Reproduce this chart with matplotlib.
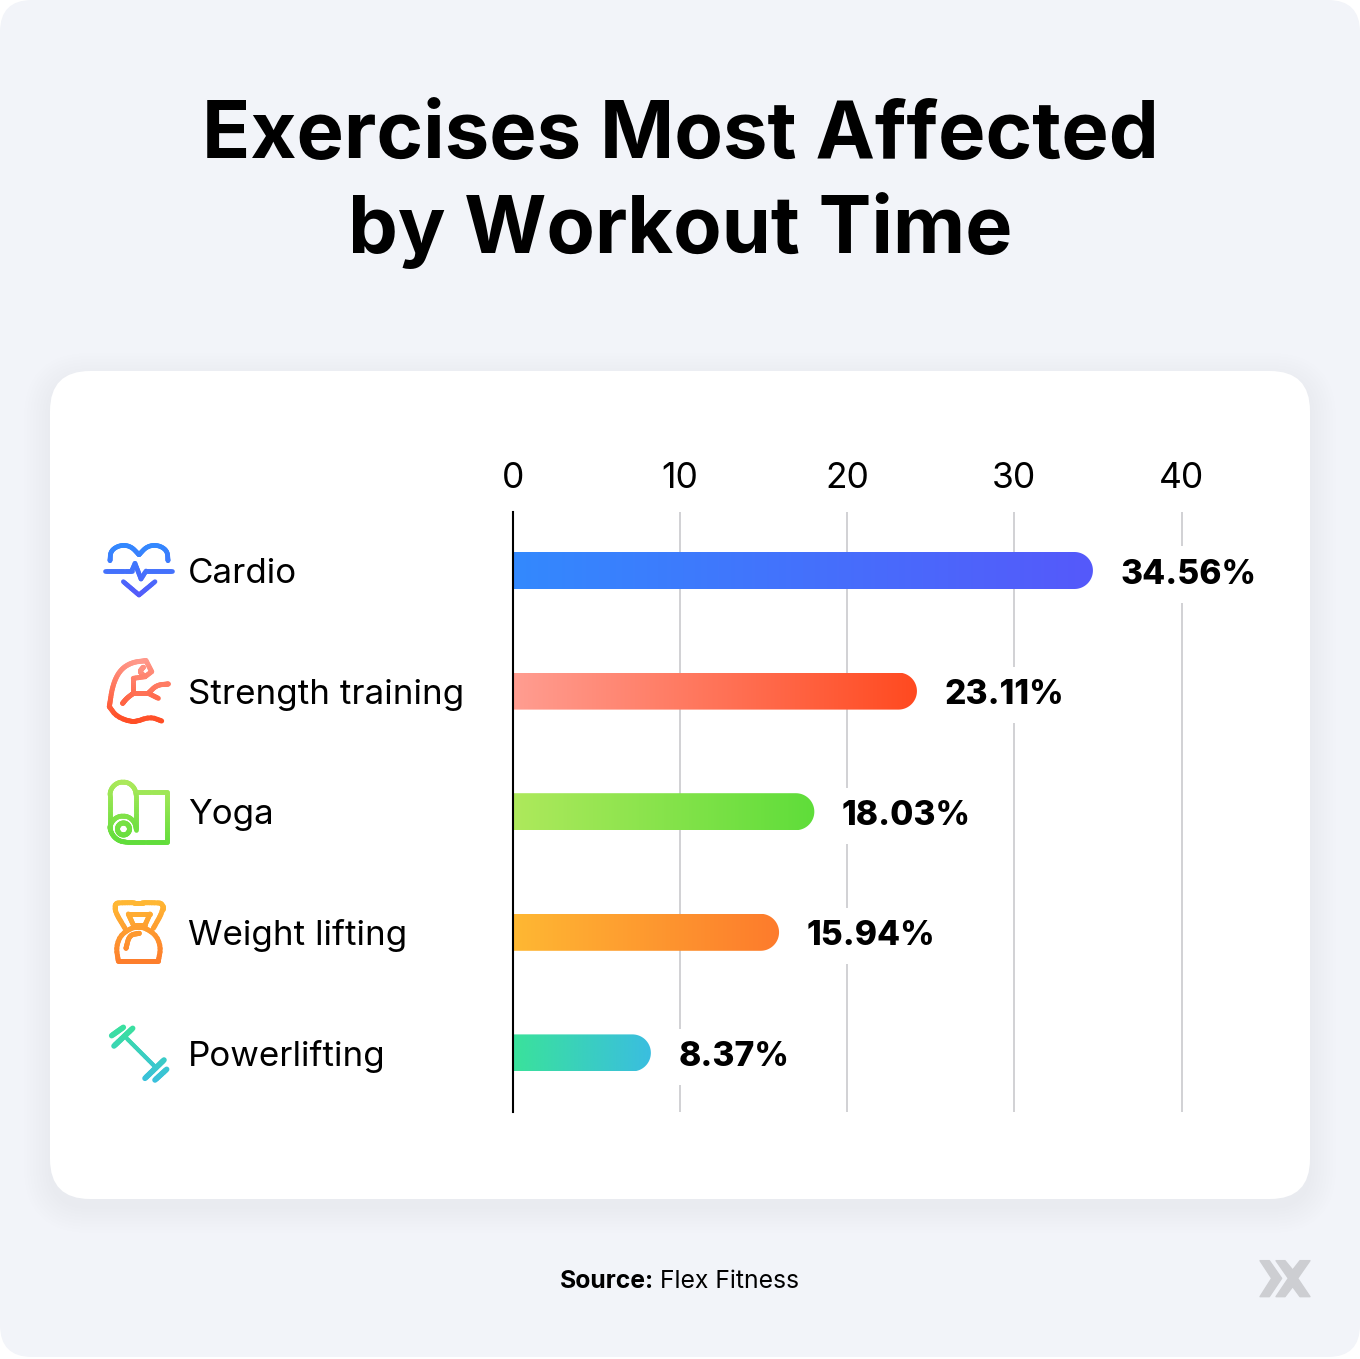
import numpy as np
import matplotlib
matplotlib.use("Agg")
import matplotlib.pyplot as plt
from matplotlib.collections import LineCollection
from matplotlib.colors import LinearSegmentedColormap, to_rgb
from matplotlib.patches import FancyBboxPatch, PathPatch, Polygon
from matplotlib.path import Path

plt.rcParams['font.family'] = ['Inter', 'DejaVu Sans']

# data
categories = ["Cardio", "Strength training", "Yoga", "Weight lifting", "Powerlifting"]
bar_values = [34.7, 24.17, 18.03, 15.92, 8.25]
value_labels = ["34.56%", "23.11%", "18.03%", "15.94%", "8.37%"]
x_ticks = [0, 10, 20, 30, 40]
bar_left_colors = ["#3389FE", "#FF9D91", "#AEE95C", "#FFB833", "#3AE29B"]
bar_right_colors = ["#5559FA", "#FF4A20", "#5FDD3A", "#FD7B2C", "#3ABEE0"]

fig = plt.figure(figsize=(13.6, 13.59), dpi=100, facecolor="white")

# background layer in pixels
bg = fig.add_axes([0, 0, 1, 1], zorder=0)
bg.set_xlim(0, 1360)
bg.set_ylim(1359, 0)
bg.axis("off")

bg.add_patch(FancyBboxPatch((30, 30), 1300, 1297, boxstyle="round,pad=30,rounding_size=32",
                            fc="#F2F4F9", ec="none"))
# soft shadow of the card
for grow, alpha in zip(range(26, 0, -3), np.linspace(0.002, 0.007, 9)):
    bg.add_patch(FancyBboxPatch((90, 411 + 8), 1180, 748, boxstyle="round,pad=%d,rounding_size=%d" % (40 + grow, 40 + grow),
                                fc="#7080A0", ec="none", alpha=alpha))
bg.add_patch(FancyBboxPatch((90, 411), 1180, 748, boxstyle="round,pad=40,rounding_size=40",
                            fc="white", ec="none"))

bg.text(680, 158, "Exercises Most Affected", ha="center", va="baseline", fontsize=57.3, fontweight="bold", color="black")
bg.text(680, 253, "by Workout Time", ha="center", va="baseline", fontsize=57, fontweight="bold", color="black")
bg.text(654, 1281, "Source:", ha="right", va="center", fontsize=17.8, fontweight="bold", color="black")
bg.text(660, 1281, "Flex Fitness", ha="left", va="center", fontsize=17.8, color="black")

# logo
def zoom_xy(pts, ox, oy):
    return [(ox + x / 3, oy + y / 3) for x, y in pts]

logo_a = [(90, 62), (118, 62), (155, 115), (118, 170), (90, 170), (125, 115)]
logo_b = [(138, 62), (165, 62), (188, 90), (210, 62), (240, 62), (203, 115), (240, 170),
          (210, 170), (188, 140), (165, 170), (138, 170), (175, 115)]
bg.add_patch(Polygon(zoom_xy(logo_a, 1230, 1240), fc="#CDCED2", ec="#CDCED2", lw=1, joinstyle="round"))
bg.add_patch(Polygon(zoom_xy(logo_b, 1230, 1240), fc="#CDCED2", ec="#CDCED2", lw=1, joinstyle="round"))


# icons: strokes coloured from top to bottom
def smooth(pts, n=3):
    pts = np.array(pts, float)
    for _ in range(n):
        q = 0.75 * pts[:-1] + 0.25 * pts[1:]
        r = 0.25 * pts[:-1] + 0.75 * pts[1:]
        new = np.empty((len(q) * 2, 2))
        new[0::2] = q
        new[1::2] = r
        pts = np.vstack([pts[0], new, pts[-1]])
    return pts


def arc(cx, cy, r, a0, a1):
    t = np.radians(np.linspace(a0, a1, 40))
    return np.column_stack([cx + r * np.cos(t), cy + r * np.sin(t)])


def stroke(pts, top, bottom, c0, c1, lw=3.0):
    pts = np.array(pts, float)
    segs = []
    for a, b in zip(pts[:-1], pts[1:]):
        n = max(int(np.hypot(*(b - a)) / 2), 1)
        t = np.linspace(0, 1, n + 1)[:, None]
        line = a + (b - a) * t
        segs += [line[i:i + 2] for i in range(n)]
    c0 = np.array(to_rgb(c0))
    c1 = np.array(to_rgb(c1))
    f = [np.clip((s[:, 1].mean() - top) / (bottom - top), 0, 1) for s in segs]
    cols = [c0 + (c1 - c0) * v for v in f]
    bg.add_collection(LineCollection(segs, colors=cols, linewidths=lw, capstyle="round"))


def z(pts, oy):
    return np.array(zoom_xy(pts, 90, oy))


# cardio
c = ("#3389FE", "#5559FA")
stroke(smooth(z([(60, 92), (62, 62), (90, 45), (122, 48), (147, 74)], 530)), 545, 597, *c, lw=3.4)
stroke(smooth(z([(147, 74), (172, 48), (205, 45), (232, 62), (234, 92)], 530)), 545, 597, *c, lw=3.4)
stroke(z([(45, 123), (125, 123), (135, 100), (153, 147), (168, 123), (247, 123)], 530), 545, 597, *c, lw=3.4)
stroke(z([(100, 155), (147, 195), (195, 155)], 530), 545, 597, *c, lw=3.4)

# strength
c = ("#FF9D91", "#FF4A20")
stroke(smooth(z([(168, 392), (125, 397), (90, 420), (68, 465), (58, 530)], 530)), 658, 724, *c, lw=3.6)
stroke(smooth(z([(58, 530), (80, 560), (130, 578), (180, 560), (215, 573)], 530), 2), 658, 724, *c, lw=3.6)
stroke(z([(168, 392), (185, 425), (165, 440)], 530), 658, 724, *c, lw=3.6)
stroke(smooth(z([(165, 440), (148, 425), (160, 412)], 530)), 658, 724, *c, lw=3.6)
stroke(z([(165, 440), (130, 445), (130, 490), (175, 490)], 530), 658, 724, *c, lw=3.6)
stroke(smooth(z([(175, 490), (200, 465), (235, 462)], 530)), 658, 724, *c, lw=3.6)
stroke(z([(175, 490), (205, 505)], 530), 658, 724, *c, lw=3.6)
stroke(smooth(z([(130, 490), (110, 505), (98, 520)], 530)), 658, 724, *c, lw=3.6)

# yoga
c = ("#AEE95C", "#5FDD3A")
stroke(np.vstack([arc(123, 795, 13, 360, 180), arc(126, 826, 16, 180, 90), [(167, 842)], [(167, 792)], [(136, 792)]]), 780, 844, *c, lw=3.4)
stroke(np.vstack([[(136, 795)], [(136, 830)]]), 780, 844, *c, lw=3.4)
stroke(arc(123, 829, 13, 180, 360), 780, 844, *c, lw=3.4)
stroke(arc(123.5, 829, 6, 0, 360), 780, 844, *c, lw=3.6)

# weight lifting
c = ("#FFB833", "#FD7B2C")
stroke(smooth(z([(105, 475), (75, 425), (75, 400), (95, 398), (195, 398), (218, 400), (218, 425), (190, 475)], 770), 2), 902, 964, *c, lw=3.6)
stroke(z([(115, 432), (180, 432), (165, 465), (130, 465), (115, 432)], 770), 902, 964, *c, lw=3.6)
stroke(smooth(z([(85, 573), (78, 530), (95, 490), (145, 465), (195, 490), (213, 530), (205, 573)], 770), 2), 902, 964, *c, lw=3.6)
stroke(z([(85, 573), (205, 573)], 770), 902, 964, *c, lw=3.6)
stroke(smooth(z([(108, 535), (118, 495), (148, 490)], 770)), 902, 964, *c, lw=3.6)

# powerlifting
c = ("#3AE29B", "#3ABEE0")
stroke(z([(110, 805), (195, 890)], 770), 1024, 1082, *c)
stroke(z([(65, 797), (100, 772)], 770), 1024, 1082, *c, lw=4)
stroke(z([(72, 828), (128, 775)], 770), 1024, 1082, *c, lw=4)
stroke(z([(165, 925), (222, 870)], 770), 1024, 1082, *c, lw=4)
stroke(z([(195, 930), (230, 898)], 770), 1024, 1082, *c, lw=4)

# chart, x=0 at 513 px and 40 at 1181.5 px
ax_l, ax_r, ax_t, ax_b = 513, 1255, 512, 1112
ax = fig.add_axes([ax_l / 1360, 1 - ax_b / 1359, (ax_r - ax_l) / 1360, (ax_b - ax_t) / 1359], zorder=1)
ax.patch.set_alpha(0)
x_max = (ax_r - ax_l) / ((1181.5 - 513) / 40)
y_pos = np.arange(len(categories))
step = 120.6
y_lim = ((ax_b - 570.5) / step, (ax_t - 570.5) / step)
bar_h = 37 / step
px_x = x_max / (ax_r - ax_l)

ax.set_xlim(0, x_max)
ax.set_ylim(y_lim)
ax.grid(axis="x", color="#C9CACD", lw=1.2, zorder=0)
ax.set_axisbelow(True)
ax.xaxis.tick_top()
ax.set_xticks(x_ticks)
ax.set_yticks(y_pos)
ax.set_yticklabels(categories, ha="left")
ax.tick_params(axis="x", length=0, labelsize=25.5, pad=12.5)
ax.tick_params(axis="y", length=0, labelsize=25.2, pad=(513 - 188) * 0.72)
for s in ["top", "right", "bottom"]:
    ax.spines[s].set_visible(False)
ax.spines["left"].set_color("black")
ax.spines["left"].set_linewidth(1.5)
ax.spines["left"].set_zorder(6)

for i, v in enumerate(bar_values):
    ax.text(v + 27.5 * px_x, i + 4 / step, value_labels[i], va="center", ha="left", fontsize=24.2, fontweight="heavy",
            color="black", zorder=4,
            bbox=dict(fc="white", ec="none", boxstyle="square,pad=0.36"))
    cmap = LinearSegmentedColormap.from_list("bar%d" % i, [bar_left_colors[i], bar_right_colors[i]])
    im = ax.imshow(np.linspace(0, 1, 256)[None, :], cmap=cmap, aspect="auto", zorder=5,
                   extent=(0, v, i + bar_h / 2, i - bar_h / 2))
    # square at the axis, round at the value
    rx = (bar_h / 2) * step * px_x
    t = np.radians(np.linspace(-90, 90, 40))
    verts = np.column_stack([v - rx + rx * np.cos(t), i + bar_h / 2 * np.sin(t)])
    verts = np.vstack([[0, i - bar_h / 2], verts, [0, i + bar_h / 2], [0, i - bar_h / 2]])
    im.set_clip_path(PathPatch(Path(verts), transform=ax.transData))

ax.set_xlim(0, x_max)
ax.set_ylim(y_lim)

fig.savefig("out.png", dpi=100, facecolor=fig.get_facecolor())
